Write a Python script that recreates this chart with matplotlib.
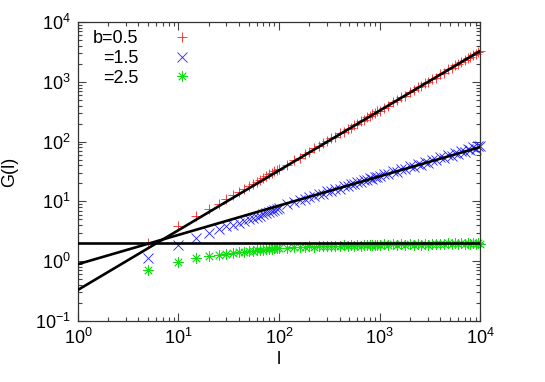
import numpy as np
import matplotlib.pyplot as plt
from matplotlib.ticker import LogLocator, NullFormatter

plt.rcParams['font.family'] = ['Liberation Sans', 'DejaVu Sans']
plt.rcParams['mathtext.default'] = 'regular'

# system size l
l_vals = [5, 10, 15, 20, 25, 30, 35, 40, 45, 50, 55, 60, 65, 70, 75, 80, 85, 90, 95, 100,
          120, 140, 160, 180, 200, 225, 250, 275, 300, 330, 360, 400, 440, 480, 520, 560,
          600, 650, 700, 750, 800, 850, 900, 950, 1000,
          1100, 1200, 1350, 1500, 1650, 1800, 2000, 2200, 2400, 2600, 2800, 3000, 3300,
          3600, 4000, 4400, 4800, 5200, 5600, 6000, 6500, 7000, 7500, 8000, 8500, 9000,
          9500, 10000]

g_b05 = [2.05, 3.8, 5.6, 7.4, 9.2, 11.0, 12.6, 14.5, 16.0, 18.0, 19.4, 21.4, 22.8, 24.8,
         26.2, 28.3, 29.6, 31.8, 32.9, 35.2,
         41, 48.5, 54, 62.5, 68, 78, 84, 95, 101, 114, 121, 137, 146, 163, 172, 191,
         199, 222, 232, 256, 265, 290, 297, 322, 330,
         372, 396, 458, 492, 556, 590, 675, 722, 808, 850, 945, 980, 1112, 1175, 1345,
         1435, 1615, 1700, 1885, 1960, 2190, 2290, 2530, 2610, 2870, 2940, 3220, 3300]

g_b15 = [1.11, 1.85, 2.48, 3.0, 3.4, 3.8, 4.1, 4.4, 4.7, 5.0, 5.3, 5.5, 5.8, 6.1, 6.4,
         6.7, 7.0, 7.3, 7.6, 7.9,
         8.9, 9.6, 10.6, 10.8, 11.9, 12.2, 13.4, 13.5, 14.8, 14.8, 16.2, 16.3, 17.9,
         17.9, 19.5, 19.4, 20.9, 20.8, 22.6, 22.4, 24.3, 23.8, 25.8, 25.2, 26.5,
         28.6, 28.2, 31.8, 31.4, 35.2, 34.4, 38.8, 38.0, 42.5, 41.3, 45.9, 44.3, 49.8,
         48.4, 55.0, 53.5, 60.3, 58.0, 65.2, 62.3, 70.2, 67.2, 75.5, 71.8, 80.5, 76.0,
         86.0, 84.0]

g_b25 = [0.70, 0.95, 1.11, 1.20, 1.28, 1.33, 1.37, 1.41, 1.44, 1.47, 1.49, 1.52, 1.54,
         1.56, 1.58, 1.60, 1.61, 1.63, 1.64, 1.66,
         1.68, 1.70, 1.73, 1.72, 1.76, 1.74, 1.78, 1.76, 1.80, 1.77, 1.82, 1.79, 1.83,
         1.81, 1.84, 1.82, 1.85, 1.82, 1.86, 1.84, 1.87, 1.85, 1.88, 1.85, 1.87,
         1.90, 1.86, 1.91, 1.87, 1.92, 1.87, 1.93, 1.88, 1.94, 1.88, 1.95, 1.89, 1.96,
         1.90, 1.97, 1.90, 1.98, 1.91, 1.99, 1.91, 2.00, 1.92, 2.01, 1.92, 2.02, 1.93,
         2.03, 1.96]

labels = ['b=0.5', '=1.5', '=2.5']
colors = ['#ff2020', '#2020ff', '#10e010']
markers = ['+', 'x', (8, 2, 0)]

# power-law fits G(l) = a * l**k
fit_amp = [0.33, 0.89, 2.0]
fit_exp = [1.0, 0.49, 0.0]

fig = plt.figure(figsize=(5.45, 3.82), dpi=100)
ax = fig.add_axes([0.143, 0.160, 0.738, 0.782])

for g, lab, c, m in zip([g_b05, g_b15, g_b25], labels, colors, markers):
    ax.plot(l_vals, g, linestyle='none', marker=m, color=c, markersize=7.5,
            markeredgewidth=0.6, label=lab, clip_on=False, zorder=2)

ll = np.logspace(0, 4, 200)
for a, k in zip(fit_amp, fit_exp):
    ax.plot(ll, a * ll ** k, color='black', linewidth=1.9, zorder=3)

ax.set_xscale('log')
ax.set_yscale('log')
ax.set_xlim(1, 1e4)
ax.set_ylim(0.1, 1e4)

for axis in (ax.xaxis, ax.yaxis):
    axis.set_major_locator(LogLocator(base=10, numticks=10))
    axis.set_minor_locator(LogLocator(base=10, subs=np.arange(2, 10), numticks=10))
    axis.set_minor_formatter(NullFormatter())

ax.tick_params(which='both', direction='in', top=True, right=True, labelsize=13, color='#444444')
ax.tick_params(which='major', length=6, width=0.8, pad=5)
ax.tick_params(which='minor', length=3, width=0.8)
for s in ax.spines.values():
    s.set_linewidth(0.9)
    s.set_color('#333333')

ax.set_xlabel('l', fontsize=13, labelpad=2)
ax.set_ylabel('G(l)', fontsize=13, labelpad=12)

ax.legend(loc='upper left', bbox_to_anchor=(0.028, 0.985), markerfirst=False, frameon=False,
          handlelength=1.0, handletextpad=1.9, labelspacing=0.15, fontsize=13,
          borderpad=0.2, borderaxespad=0)

fig.savefig('out.png', dpi=100)
